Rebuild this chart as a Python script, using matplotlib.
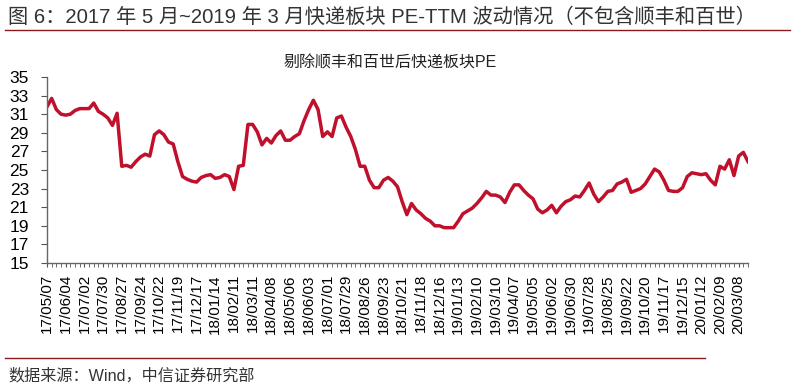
import numpy as np
import pandas as pd
import matplotlib
matplotlib.use('Agg')
from matplotlib import pyplot as plt

plt.rcParams['font.family'] = ['Liberation Sans', 'Noto Sans CJK SC', 'DejaVu Sans']

# weekly PE-TTM, starting 2017-05-07
pe = [31.8, 32.7, 31.5, 31.0, 30.9, 31.0, 31.4, 31.6, 31.6, 31.6,
      32.2, 31.3, 31.0, 30.6, 29.8, 31.1, 25.4, 25.5, 25.3, 25.9,
      26.4, 26.7, 26.5, 28.8, 29.2, 28.8, 28.0, 27.8, 25.9, 24.3,
      24.0, 23.8, 23.7, 24.2, 24.4, 24.5, 24.1, 24.2, 24.5, 24.3,
      22.9, 25.4, 25.5, 29.9, 29.9, 29.1, 27.7, 28.4, 27.9, 28.7,
      29.2, 28.2, 28.2, 28.6, 28.9, 30.3, 31.5, 32.5, 31.5, 28.6,
      29.1, 28.6, 30.6, 30.8, 29.6, 28.6, 27.2, 25.4, 25.4, 23.9,
      23.1, 23.1, 23.9, 24.2, 23.8, 23.2, 21.6, 20.2, 21.4, 20.7,
      20.3, 19.8, 19.5, 19.0, 19.0, 18.8, 18.8, 18.8, 19.5, 20.3,
      20.6, 20.9, 21.4, 22.0, 22.7, 22.3, 22.3, 22.1, 21.5, 22.6,
      23.4, 23.4, 22.8, 22.3, 21.9, 20.8, 20.4, 20.7, 21.2, 20.4,
      21.1, 21.6, 21.8, 22.2, 22.1, 22.8, 23.6, 22.4, 21.6, 22.1,
      22.7, 22.8, 23.5, 23.7, 24.0, 22.6, 22.8, 23.0, 23.5, 24.3,
      25.1, 24.8, 23.9, 22.8, 22.7, 22.7, 23.1, 24.3, 24.7, 24.6,
      24.5, 24.6, 23.9, 23.4, 25.4, 25.1, 26.1, 24.4, 26.5, 26.9,
      25.9]
dates = pd.date_range('2017-05-07', periods=len(pe), freq='7D')
labels = [d.strftime('%y/%m/%d') for d in dates]

title = '图 6：2017 年 5 月~2019 年 3 月快递板块 PE-TTM 波动情况（不包含顺丰和百世）'
chart_title = '剔除顺丰和百世后快递板块PE'
source = '数据来源：Wind，中信证券研究部'

fig = plt.figure(figsize=(8.09, 3.89), dpi=100)
ax = fig.add_axes([47/809, 1-263/389, (748-47)/809, (263-77)/389])

x = np.arange(len(pe))
ax.plot(x, pe, color='#C0102C', lw=2.5, solid_joinstyle='round')

ax.set_xlim(0, len(pe) - 1)
ax.set_ylim(15, 35)
ax.set_yticks(np.arange(15, 36, 2))
ax.tick_params(axis='y', labelsize=12.5, length=4, direction='out', color='#555555', pad=9)

ax.set_xticks(x[::4])
ax.set_xticklabels(labels[::4], rotation=90, fontsize=11)
ax.set_xticks(x, minor=True)
ax.tick_params(axis='x', which='both', length=3, direction='out', color='#555555', pad=5)

for s in ['top', 'right']:
    ax.spines[s].set_visible(False)
for s in ['left', 'bottom']:
    ax.spines[s].set_color('#666666')
    ax.spines[s].set_linewidth(1.0)

fig.text(390/809, 1-63/389, chart_title, ha='center', va='center', fontsize=11.5, color='#222222')
fig.text(8/809, 1-17/389, title, ha='left', va='center', fontsize=14.6, color='#333333')
fig.text(8/809, 1-376/389, source, ha='left', va='center', fontsize=11.6, color='#333333')

fig.add_artist(plt.Line2D([5/809, 790/809], [1-30/389, 1-30/389], color='#8B1A1A', lw=1.0))
fig.add_artist(plt.Line2D([5/809, 705/809], [1-358/389, 1-358/389], color='#8B1A1A', lw=1.0))

fig.savefig('out.png', dpi=100)
